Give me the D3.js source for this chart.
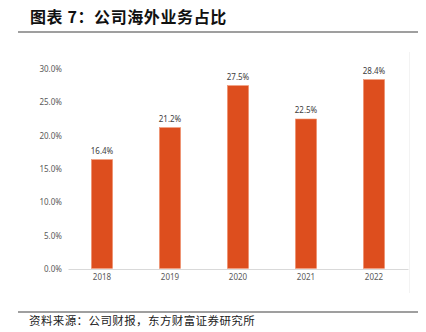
<!DOCTYPE html>
<html><head><meta charset="utf-8">
<script src="https://cdn.jsdelivr.net/npm/d3@7"></script>
<style>
html,body{margin:0;padding:0;background:#fff;}
svg{display:block;}
</style></head>
<body><svg id="c" width="426" height="332"></svg>
<script>
const title = "图表 7：公司海外业务占比";
const source = "资料来源：公司财报，东方财富证券研究所";
const years = ["2018","2019","2020","2021","2022"];
const shares = [16.4, 21.2, 27.5, 22.5, 28.4];
const yTicks = [0, 5, 10, 15, 20, 25, 30];

const svg = d3.select("#c");
const cjk = "'Noto Sans CJK SC', sans-serif";
const num = "'Noto Sans', 'DejaVu Sans', sans-serif";

// Title
svg.append("text").attr("x", 30).attr("y", 23)
  .attr("font-family", cjk).attr("font-weight", "bold").attr("font-size", 16)
  .attr("letter-spacing", 0.6).attr("fill", "#111").text(title);
svg.append("line").attr("x1", 18).attr("x2", 418).attr("y1", 32).attr("y2", 32)
  .attr("stroke", "#7f7f7f").attr("stroke-width", 1.6);

// Footer
svg.append("line").attr("x1", 18).attr("x2", 418).attr("y1", 312).attr("y2", 312)
  .attr("stroke", "#7f7f7f").attr("stroke-width", 1.3);
svg.append("text").attr("x", 29).attr("y", 325)
  .attr("font-family", cjk).attr("font-size", 11.5).attr("letter-spacing", 0.4)
  .attr("fill", "#222").text(source);

// faint frame edge of chart image
svg.append("line").attr("x1", 409.5).attr("x2", 409.5).attr("y1", 52).attr("y2", 293)
  .attr("stroke", "#f3f3f3").attr("stroke-width", 1);

const x = d3.scaleBand().domain(years).range([68, 408]).paddingInner(0.69).paddingOuter(0.345);
const y = d3.scaleLinear().domain([0, 30]).range([269, 69]);

// y axis labels
const ya = svg.append("g").attr("transform", "translate(62,0)")
  .call(d3.axisLeft(y).tickValues(yTicks).tickSize(0).tickPadding(0)
    .tickFormat(d => d3.format(".1f")(d) + "%"));
ya.select(".domain").remove();
ya.selectAll("text").attr("font-family", num).attr("font-size", 8).attr("fill", "#595959");

// x axis
const xa = svg.append("g").attr("transform", "translate(0,269)")
  .call(d3.axisBottom(x).tickSize(0).tickPadding(5));
xa.select(".domain").attr("stroke", "#d9d9d9").attr("stroke-width", 1.2);
xa.selectAll("text").attr("font-family", num).attr("font-size", 8).attr("fill", "#595959");

// bars
const data = years.map((yr, i) => ({yr, v: shares[i]}));
svg.append("g").selectAll("rect").data(data).join("rect")
  .attr("x", d => x(d.yr)).attr("width", x.bandwidth())
  .attr("y", d => y(d.v)).attr("height", d => y(0) - y(d.v) - 0.6)
  .attr("fill", "#DD4E1E").attr("stroke", "#EF8F6C").attr("stroke-width", 0.6);

svg.append("g").selectAll("text").data(data).join("text")
  .attr("x", d => x(d.yr) + x.bandwidth() / 2).attr("y", d => y(d.v) - 6)
  .attr("text-anchor", "middle").attr("font-family", num).attr("font-size", 8)
  .attr("fill", "#404040").text(d => d3.format(".1f")(d.v) + "%");
</script></body></html>
